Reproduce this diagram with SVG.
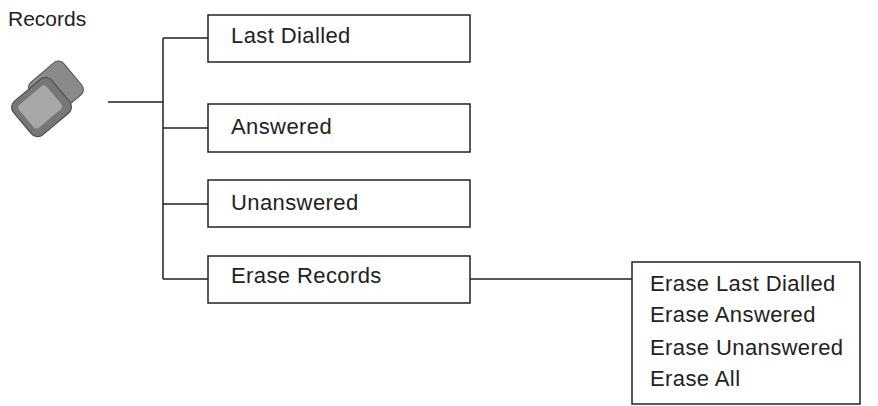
<svg xmlns="http://www.w3.org/2000/svg" width="878" height="406" viewBox="0 0 878 406">
<style>
.b{fill:#fff;stroke:#222;stroke-width:1.5}
.t{font-family:"Liberation Sans",Arial,sans-serif;font-size:22px;letter-spacing:0.4px;fill:#222}
.c{stroke:#222;stroke-width:1.5;fill:none}
</style>
<rect width="878" height="406" fill="#fff"/>
<text class="t" x="8" y="26" style="font-size:21px;letter-spacing:0">Records</text>
<g id="icon">
<g transform="translate(50,100) rotate(-40)">
<rect x="-10" y="-26" width="44" height="42" rx="7" fill="#8a8a8a" stroke="#555"/>
<rect x="-36" y="-22" width="50" height="44" rx="8" fill="#777" stroke="#444"/>
<rect x="-30" y="-16" width="36" height="30" rx="4" fill="#a8a8a8"/>
</g>
</g>
<g id="connectors">
<path class="c" d="M108 102H163M163 38V279M163 38H208M163 128H208M163 204H208M163 279H208M470 279H632"/>
</g>
<g id="n1"><rect class="b" x="208" y="15" width="262" height="47"/><text class="t" x="231" y="43">Last Dialled</text></g>
<g id="n2"><rect class="b" x="208" y="104" width="262" height="48"/><text class="t" x="231" y="134">Answered</text></g>
<g id="n3"><rect class="b" x="208" y="180" width="262" height="47"/><text class="t" x="231" y="210">Unanswered</text></g>
<g id="n4"><rect class="b" x="208" y="256" width="262" height="47"/><text class="t" x="231" y="283">Erase Records</text></g>
<g id="n5"><rect class="b" x="632" y="262" width="228" height="142"/>
<text class="t" x="650" y="291">Erase Last Dialled</text>
<text class="t" x="650" y="322">Erase Answered</text>
<text class="t" x="650" y="355">Erase Unanswered</text>
<text class="t" x="650" y="386">Erase All</text></g>
</svg>
